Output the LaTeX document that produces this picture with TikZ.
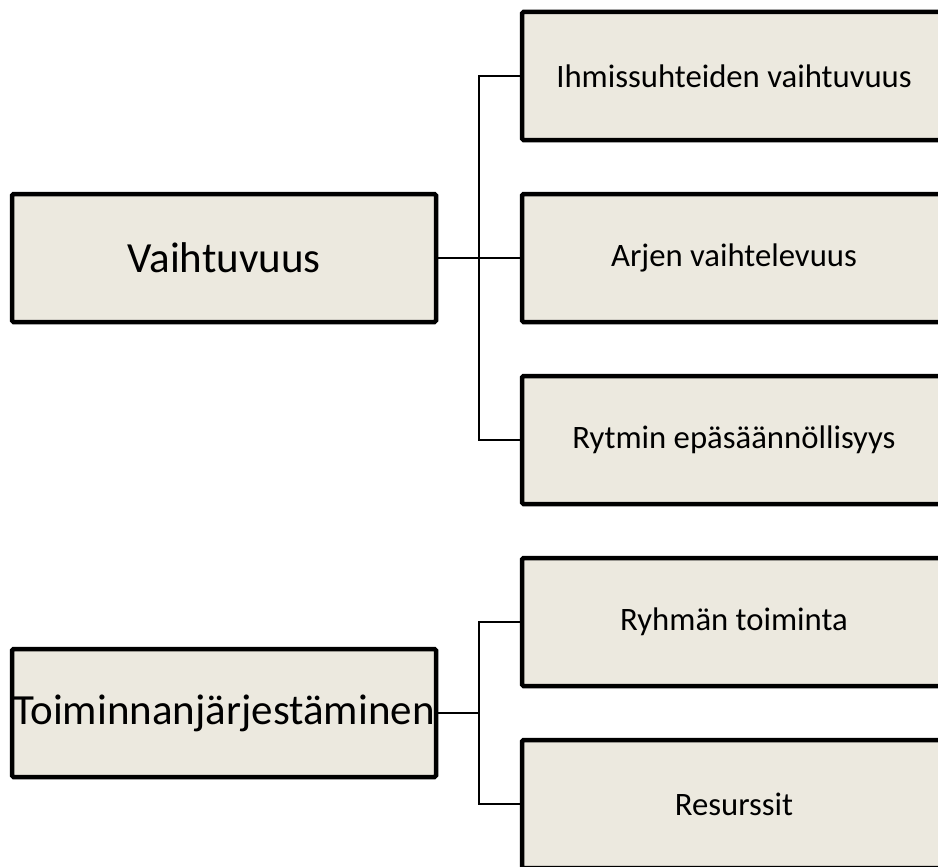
\documentclass[tikz,border=0pt]{standalone}
\usepackage{fontspec}
\setmainfont{Carlito}
\usetikzlibrary{positioning}
\definecolor{boxfill}{RGB}{236,233,223}
\tikzset{
  topic/.style={draw=black, fill=boxfill, line width=4.5pt, rounded corners=1.5pt,
    minimum width=424pt, minimum height=128pt, inner sep=0pt,
    font=\fontsize{43}{48}\selectfont},
  subtopic/.style={topic, font=\fontsize{32.7}{38}\selectfont},
  link/.style={line width=1.4pt}
}
\begin{document}
\begin{tikzpicture}[x=1pt,y=-1pt]
\useasboundingbox (0,0) rectangle (938,867);
\clip (0,0) rectangle (938,867);

% first group
\node[topic] (vaiht) at (224,258) {Vaihtuvuus};
\node[subtopic] (ihmis) at (734,76) {Ihmissuhteiden vaihtuvuus};
\node[subtopic] (arjen) at (734,258) {Arjen vaihtelevuus};
\node[subtopic] (rytmi) at (734,440) {Rytmin epäsäännöllisyys};

\coordinate (haara1) at (479,258);
\draw[link] (vaiht.east) -- (arjen.west);
\draw[link] (ihmis.west) -| (haara1) |- (rytmi.west);

% second group
\node[topic] (toim) at (224,713) {Toiminnanjärjestäminen};
\node[subtopic] (ryhma) at (734,622) {Ryhmän toiminta};
\node[subtopic] (resurs) at (734,804) {Resurssit};

\coordinate (haara2) at (479,713);
\draw[link] (toim.east) -- (haara2);
\draw[link] (ryhma.west) -| (haara2) |- (resurs.west);
\end{tikzpicture}
\end{document}
